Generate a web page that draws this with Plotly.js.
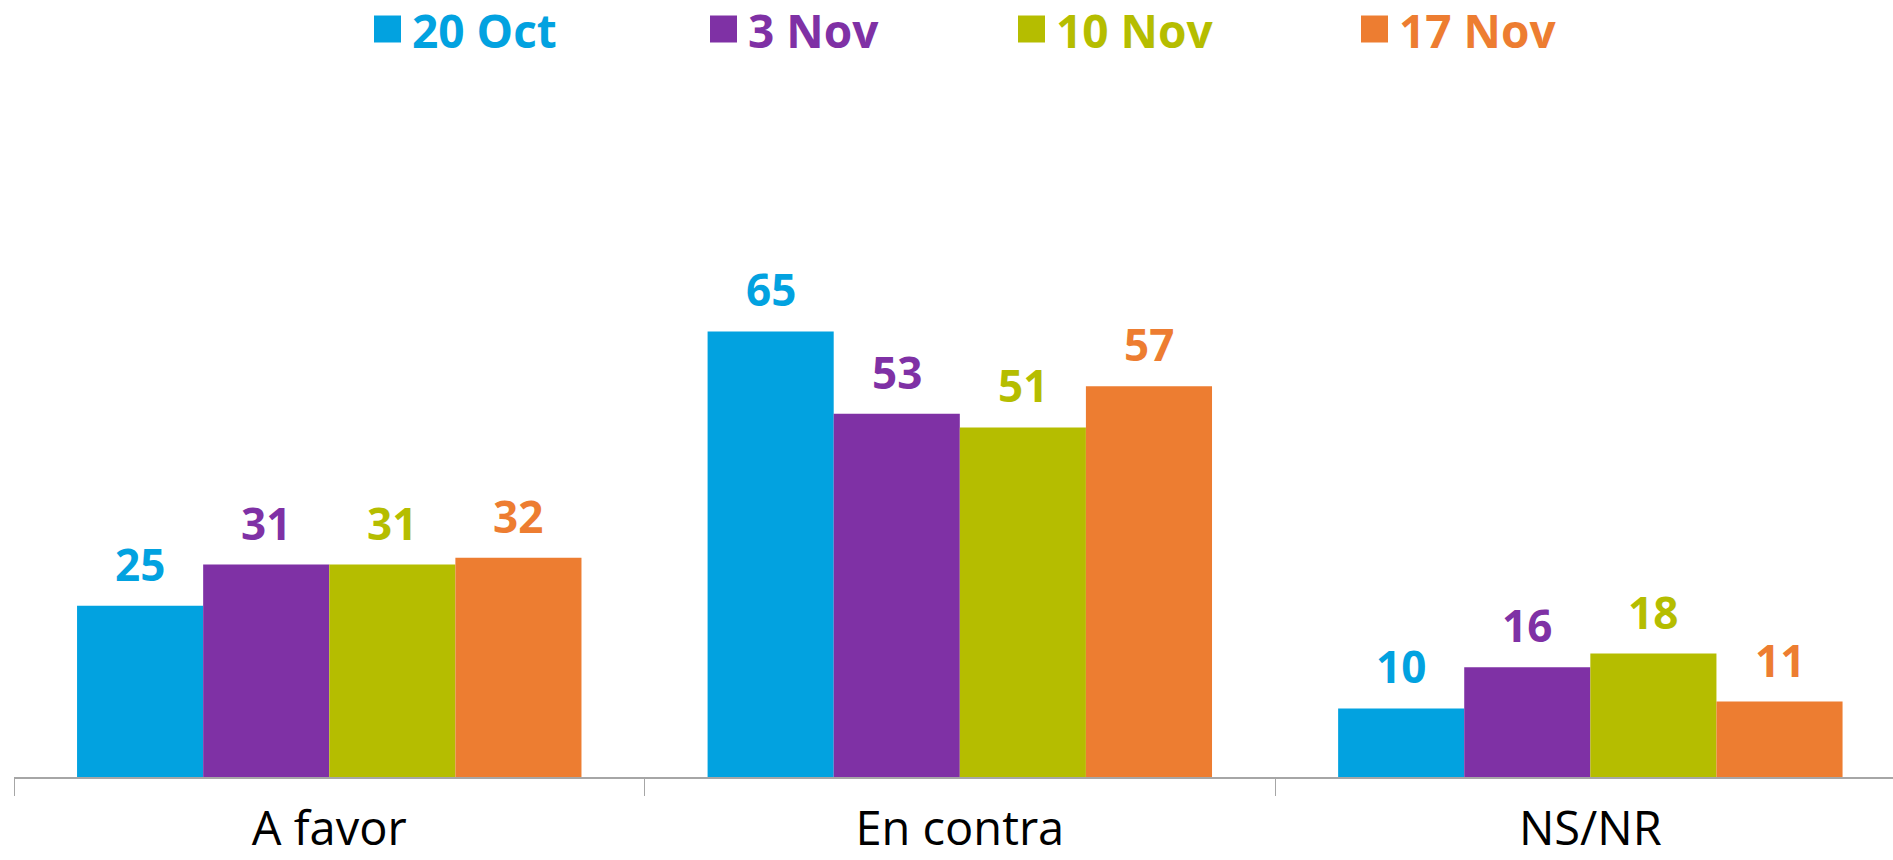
<!DOCTYPE html>
<html>
<head>
<meta charset="utf-8">
<script src="https://cdn.plot.ly/plotly-3.0.1.min.js"></script>
<style>html,body{margin:0;padding:0;background:#fff;}#chart{width:1893px;height:860px;}</style>
</head>
<body>
<div id="chart"></div>
<script>
// ---- data ----
const categories = ["A favor", "En contra", "NS/NR"];
const seriesNames = ["20 Oct", "3 Nov", "10 Nov", "17 Nov"];
const oct20 = [25, 65, 10];
const nov3 = [31, 53, 16];
const nov10 = [31, 51, 18];
const nov17 = [32, 57, 11];
const seriesValues = [oct20, nov3, nov10, nov17];
const colors = ["#02A2E0", "#7F31A5", "#B5BD00", "#ED7D31"];

// ---- layout geometry ----
const W = 1893, H = 860;
const M = {l: 14, r: 0, t: 60, b: 83};
const plotW = W - M.l - M.r, plotH = H - M.t - M.b;
const xRange = [-0.5, 2.48];
const yRange = [0, 104.6];
const bargap = 0.2;
const unitPx = plotW / (xRange[1] - xRange[0]);
const barPx = unitPx * (1 - bargap) / seriesNames.length;

const font = "'Open Sans', 'DejaVu Sans', sans-serif";

const traces = seriesNames.map((n, i) => ({
  type: 'bar',
  name: n,
  x: categories,
  y: seriesValues[i],
  marker: {color: colors[i], line: {width: 0}},
  hoverinfo: 'x+y+name',
  showlegend: false
}));

const annotations = [];
seriesNames.forEach((n, i) => {
  categories.forEach((c, j) => {
    annotations.push({
      x: c, y: seriesValues[i][j], xref: 'x', yref: 'y',
      text: '<b>' + seriesValues[i][j] + '</b>',
      showarrow: false, xanchor: 'center', yanchor: 'bottom',
      xshift: (i - (seriesNames.length - 1) / 2) * barPx,
      yshift: 10,
      font: {family: font, size: 44, color: colors[i]}
    });
  });
});

// manual legend
const legendX = [374, 710, 1018, 1361];
const legendY = 29, sq = 27;
const px2x = p => (p - M.l) / plotW;
const px2y = p => (H - M.b - p) / plotH;
const shapes = [];
seriesNames.forEach((n, i) => {
  shapes.push({
    type: 'rect', xref: 'paper', yref: 'paper',
    x0: px2x(legendX[i]), x1: px2x(legendX[i] + sq),
    y0: px2y(legendY + sq / 2), y1: px2y(legendY - sq / 2),
    fillcolor: colors[i], line: {width: 0}
  });
  annotations.push({
    xref: 'paper', yref: 'paper',
    x: px2x(legendX[i] + sq + 9), y: px2y(legendY + 1),
    xanchor: 'left', yanchor: 'middle', showarrow: false,
    text: '<b>' + n + '</b>',
    font: {family: font, size: 46, color: colors[i]}
  });
});

const layout = {
  width: W, height: H,
  margin: M,
  paper_bgcolor: '#ffffff', plot_bgcolor: '#ffffff',
  barmode: 'group', bargap: bargap, bargroupgap: 0,
  showlegend: false,
  xaxis: {
    type: 'category', range: xRange,
    showline: true, linecolor: '#A6A6A6', linewidth: 2,
    ticks: 'outside', tickson: 'boundaries', ticklen: 17, tickcolor: '#A6A6A6', tickwidth: 1,
    ticklabelstandoff: 10,
    showgrid: false, zeroline: false,
    tickfont: {family: font, size: 47, color: '#000000'}
  },
  yaxis: {
    range: yRange, visible: false, showgrid: false, zeroline: false
  },
  annotations: annotations,
  shapes: shapes
};

Plotly.newPlot('chart', traces, layout, {displayModeBar: false, staticPlot: true});
</script>
</body>
</html>
